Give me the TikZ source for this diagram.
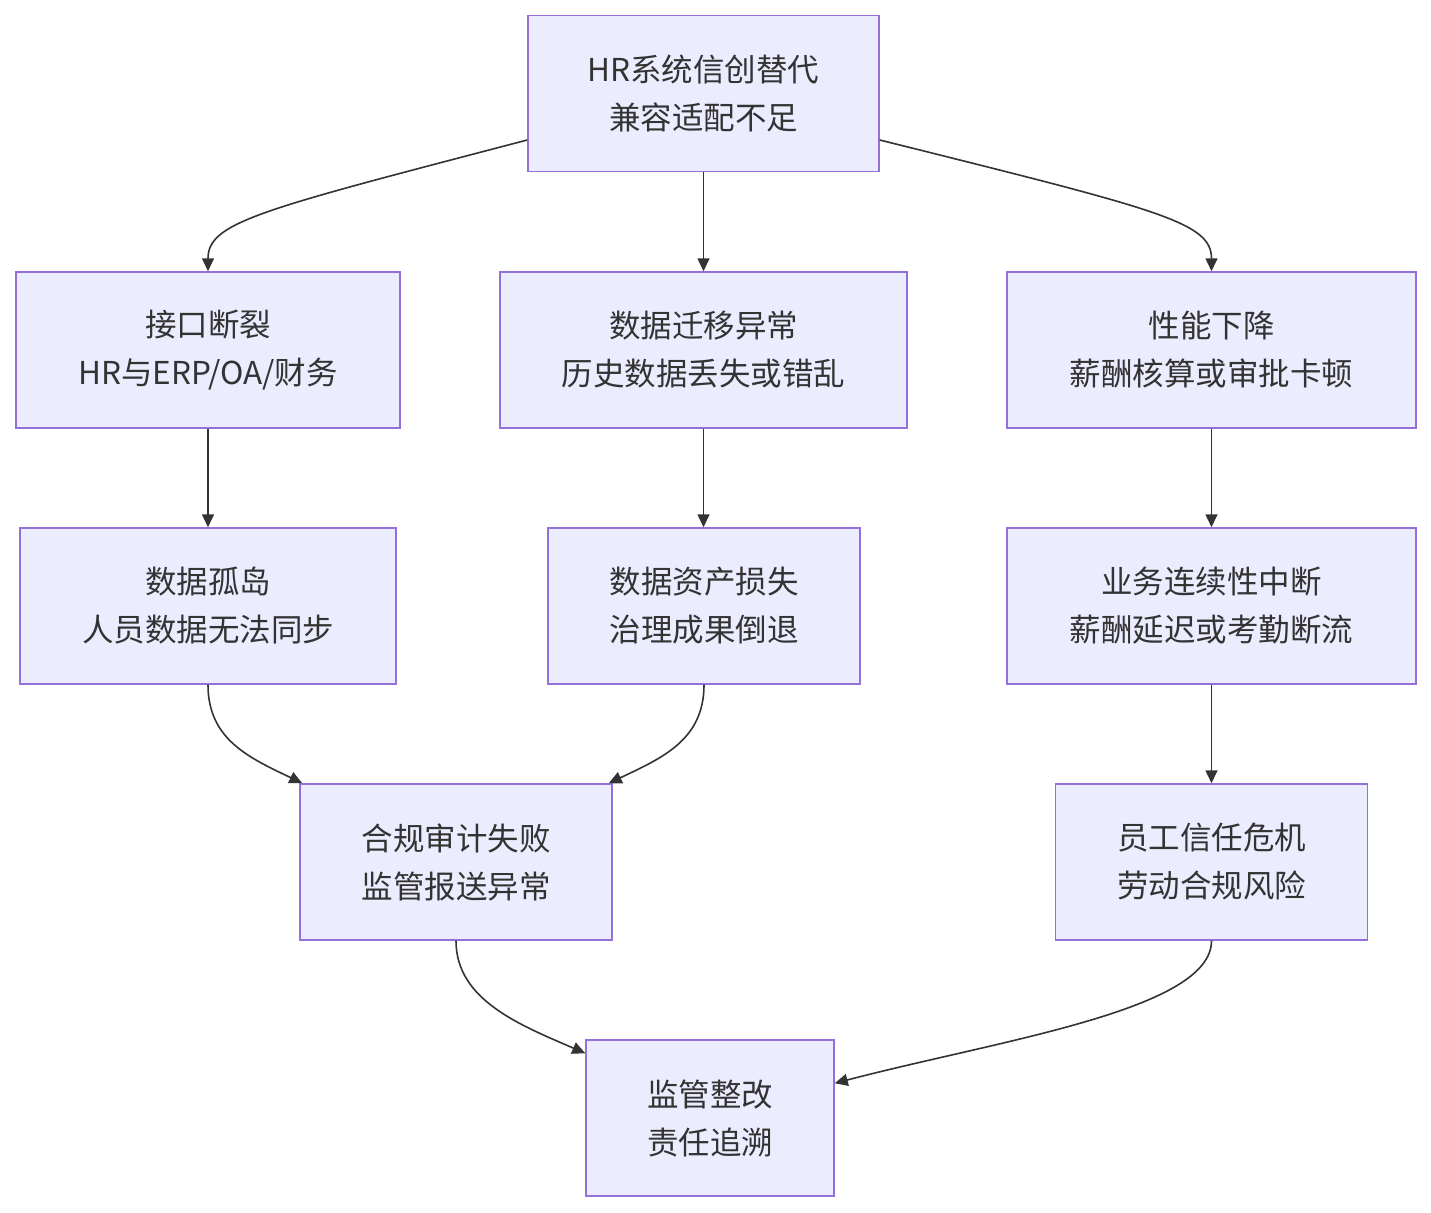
\documentclass[tikz,border=0pt]{standalone}
\usepackage{fontspec}
\setmainfont{Noto Sans CJK SC}
\usetikzlibrary{arrows.meta}
\definecolor{boxfill}{HTML}{ECECFF}
\definecolor{boxline}{HTML}{9370DB}
\definecolor{ink}{HTML}{333333}
\tikzset{
  box/.style={draw=boxline, fill=boxfill, line width=1.5pt, text=ink, align=center,
    minimum height=156pt, inner sep=0pt, font=\fontsize{31.5}{48}\selectfont},
  conn/.style={draw=ink, line width=1.6pt, -{Triangle[length=13pt,width=12pt]}}
}
\begin{document}
\begin{tikzpicture}[x=1pt,y=-1pt]
\useasboundingbox[fill=white] (0,0) rectangle (1431,1212);
\node[box, minimum width=351pt] (top) at (703.5,93.5) {HR系统信创替代\\兼容适配不足};
\node[box, minimum width=384pt] (a) at (208,350) {接口断裂\\HR与ERP/OA/财务};
\node[box, minimum width=407pt] (b) at (703.5,350) {数据迁移异常\\历史数据丢失或错乱};
\node[box, minimum width=409pt] (c) at (1211.5,350) {性能下降\\薪酬核算或审批卡顿};
\node[box, minimum width=376pt] (d) at (208,606) {数据孤岛\\人员数据无法同步};
\node[box, minimum width=312pt] (e) at (704,606) {数据资产损失\\治理成果倒退};
\node[box, minimum width=409pt] (f) at (1211.5,606) {业务连续性中断\\薪酬延迟或考勤断流};
\node[box, minimum width=312pt] (g) at (456,862) {合规审计失败\\监管报送异常};
\node[box, minimum width=312pt] (h) at (1211.5,862) {员工信任危机\\劳动合规风险};
\node[box, minimum width=248pt] (i) at (710,1118) {监管整改\\责任追溯};

\draw[conn] ([yshift=-46.5pt]top.west) .. controls (260,210) and (208,222) .. (a.north);
\draw[conn] (top.south) -- (b.north);
\draw[conn] ([yshift=-46.5pt]top.east) .. controls (1160,210) and (1211.5,222) .. (c.north);
\draw[conn] (a.south) -- (d.north);
\draw[conn] (b.south) -- ([xshift=-0.5pt]e.north);
\draw[conn] (c.south) -- (f.north);
\draw[conn] (f.south) -- (h.north);
\draw[conn] (d.south) .. controls (208,740) and (250,758) .. ([xshift=3pt]g.north west);
\draw[conn] (e.south) .. controls (704,740) and (662,758) .. ([xshift=-4pt]g.north east);
\draw[conn] (g.south) .. controls (456,1000) and (520,1025) .. ([yshift=-14pt]i.north west);
\draw[conn] (h.south) .. controls (1211.5,1010) and (1000,1040) .. ([yshift=-44pt]i.north east);
\end{tikzpicture}
\end{document}
